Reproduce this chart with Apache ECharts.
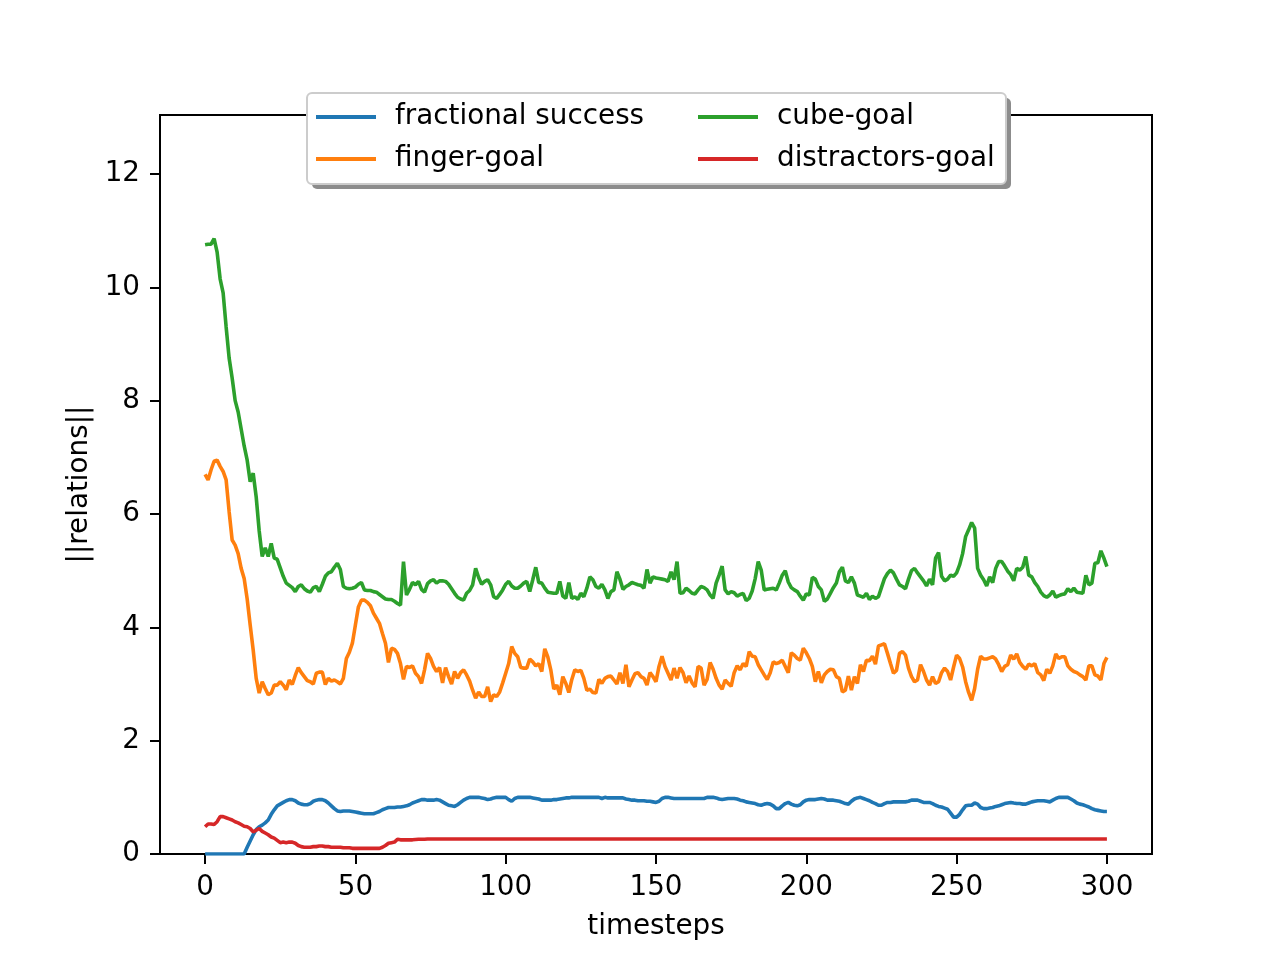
<!DOCTYPE html>
<html>
<head>
<meta charset="utf-8">
<script src="https://cdn.jsdelivr.net/npm/echarts@6/dist/echarts.min.js"></script>
<style>html,body{margin:0;padding:0;background:#fff}#c{width:1280px;height:960px}</style>
</head>
<body>
<div id="c"></div>
<script>
const seriesNames = ['fractional success', 'finger-goal', 'cube-goal', 'distractors-goal'];
const xTicks = [0, 50, 100, 150, 200, 250, 300];
const yTicks = [0, 2, 4, 6, 8, 10, 12];

const fractionalSuccess = [
0,0,0,0,0,0,0,0,0,0,
0,0,0,0,0.12,0.23,0.34,0.43,0.48,0.51,
0.55,0.6,0.7,0.78,0.85,0.88,0.91,0.94,0.96,0.96,
0.94,0.9,0.88,0.87,0.87,0.89,0.93,0.95,0.96,0.96,
0.94,0.9,0.85,0.8,0.76,0.75,0.76,0.76,0.76,0.75,
0.74,0.73,0.72,0.71,0.71,0.71,0.71,0.73,0.75,0.78,
0.8,0.82,0.82,0.82,0.83,0.83,0.84,0.85,0.87,0.9,
0.92,0.94,0.96,0.96,0.95,0.95,0.95,0.96,0.95,0.92,
0.89,0.86,0.85,0.84,0.87,0.91,0.95,0.98,1.0,1.0,
1.0,1.0,0.99,0.98,0.96,0.97,0.99,1.0,1.0,1.0,
1.0,0.96,0.93,0.98,1.0,1.0,1.0,1.0,1.0,0.99,
0.98,0.97,0.95,0.95,0.95,0.95,0.96,0.96,0.97,0.98,
0.99,0.99,1.0,1.0,1.0,1.0,1.0,1.0,1.0,1.0,
1.0,1.0,0.98,1.0,0.99,0.99,0.99,0.99,0.99,0.99,
0.97,0.96,0.95,0.95,0.94,0.94,0.94,0.93,0.93,0.92,
0.91,0.93,0.98,1.0,1.0,0.99,0.98,0.98,0.98,0.98,
0.98,0.98,0.98,0.98,0.98,0.98,0.98,1.0,1.0,1.0,
0.99,0.97,0.96,0.97,0.98,0.98,0.98,0.97,0.95,0.94,
0.92,0.91,0.9,0.89,0.87,0.86,0.88,0.89,0.88,0.85,
0.8,0.8,0.85,0.89,0.91,0.88,0.86,0.85,0.87,0.92,
0.95,0.96,0.96,0.96,0.97,0.98,0.97,0.95,0.95,0.95,
0.94,0.93,0.91,0.89,0.88,0.93,0.97,0.99,1.0,0.98,
0.96,0.94,0.91,0.89,0.86,0.86,0.89,0.91,0.91,0.92,
0.92,0.92,0.92,0.92,0.93,0.95,0.95,0.95,0.93,0.91,
0.91,0.91,0.89,0.86,0.84,0.83,0.81,0.79,0.72,0.65,
0.65,0.7,0.78,0.85,0.86,0.86,0.9,0.88,0.82,0.8,
0.8,0.81,0.82,0.84,0.85,0.87,0.89,0.9,0.91,0.9,
0.89,0.89,0.88,0.88,0.9,0.92,0.93,0.94,0.94,0.94,
0.93,0.92,0.95,0.98,1.0,1.0,1.0,1.0,0.97,0.94,
0.9,0.88,0.87,0.85,0.83,0.8,0.78,0.77,0.76,0.75,
0.75
];

const fingerGoal = [
6.7,6.6,6.78,6.93,6.95,6.84,6.75,6.6,6.04,5.54,
5.45,5.3,5.04,4.86,4.5,4.04,3.6,3.1,2.84,3.04,
2.92,2.81,2.84,2.98,2.98,3.04,2.98,2.9,3.07,2.99,
3.15,3.29,3.2,3.13,3.06,3.04,3.0,3.19,3.21,3.21,
2.99,3.1,3.05,3.07,3.04,3.0,3.1,3.45,3.56,3.72,
4.04,4.36,4.48,4.48,4.44,4.38,4.25,4.16,4.07,3.89,
3.72,3.38,3.63,3.61,3.54,3.36,3.08,3.31,3.29,3.32,
3.19,3.13,3.01,3.25,3.54,3.45,3.31,3.22,3.29,3.02,
3.29,3.13,3.0,3.22,3.1,3.2,3.25,3.16,3.05,2.89,
2.75,2.86,2.78,2.78,2.95,2.69,2.81,2.78,2.86,3.02,
3.19,3.36,3.66,3.54,3.48,3.29,3.28,3.28,3.44,3.39,
3.32,3.36,3.22,3.62,3.48,3.25,2.91,2.98,2.81,3.13,
3.01,2.85,3.08,3.25,3.22,3.24,3.1,2.89,2.91,2.85,
2.84,3.08,3.01,3.1,3.13,3.14,3.07,3.0,3.2,3.01,
3.34,2.95,3.07,3.18,3.2,3.13,3.1,2.98,3.2,3.13,
3.04,3.31,3.49,3.31,3.19,3.07,3.28,3.1,3.29,3.2,
3.02,3.14,3.02,2.95,3.31,3.28,2.98,3.08,3.38,3.26,
3.1,2.98,2.91,3.07,3.01,2.96,3.2,3.32,3.25,3.36,
3.31,3.57,3.49,3.48,3.34,3.25,3.16,3.08,3.2,3.39,
3.36,3.38,3.42,3.31,3.2,3.55,3.51,3.45,3.42,3.63,
3.55,3.45,3.31,3.04,3.22,3.02,3.16,3.22,3.26,3.25,
3.13,3.1,2.86,2.89,3.14,2.89,3.13,3.01,3.34,3.22,
3.42,3.41,3.49,3.35,3.67,3.69,3.71,3.54,3.36,3.19,
3.24,3.54,3.57,3.51,3.28,3.13,3.04,3.07,3.34,3.22,
3.07,2.98,3.13,3.01,3.04,3.2,3.28,3.22,3.07,3.3,
3.51,3.45,3.3,3.04,2.85,2.71,2.92,3.26,3.49,3.44,
3.44,3.46,3.48,3.44,3.34,3.22,3.31,3.34,3.51,3.44,
3.53,3.38,3.31,3.26,3.35,3.32,3.36,3.2,3.16,3.06,
3.26,3.19,3.32,3.53,3.45,3.48,3.48,3.32,3.26,3.22,
3.2,3.16,3.13,3.07,3.32,3.32,3.16,3.14,3.07,3.36,
3.47
];

const cubeGoal = [
10.75,10.76,10.76,10.86,10.62,10.15,9.9,9.3,8.75,8.4,
8.0,7.8,7.5,7.2,6.95,6.57,6.72,6.3,5.7,5.25,
5.4,5.25,5.48,5.22,5.2,5.05,4.9,4.78,4.74,4.7,
4.63,4.72,4.75,4.68,4.64,4.62,4.7,4.72,4.63,4.76,
4.9,4.96,4.98,5.06,5.13,5.02,4.72,4.69,4.68,4.69,
4.71,4.76,4.79,4.66,4.65,4.65,4.63,4.62,4.58,4.54,
4.5,4.49,4.49,4.46,4.42,4.39,5.16,4.57,4.67,4.79,
4.75,4.81,4.67,4.62,4.77,4.82,4.84,4.78,4.82,4.82,
4.81,4.76,4.68,4.6,4.53,4.5,4.48,4.6,4.65,4.75,
5.04,4.88,4.76,4.81,4.84,4.75,4.54,4.51,4.58,4.66,
4.76,4.81,4.73,4.69,4.69,4.73,4.78,4.81,4.63,4.84,
5.06,4.79,4.78,4.69,4.62,4.61,4.6,4.6,4.81,4.55,
4.51,4.79,4.51,4.54,4.49,4.6,4.54,4.69,4.89,4.84,
4.72,4.69,4.76,4.66,4.51,4.63,4.66,4.98,4.85,4.67,
4.72,4.75,4.79,4.77,4.75,4.74,4.69,5.02,4.78,4.89,
4.87,4.86,4.85,4.84,4.81,4.98,4.84,5.16,4.6,4.61,
4.69,4.65,4.6,4.59,4.66,4.72,4.7,4.66,4.57,4.51,
4.78,4.92,5.08,4.66,4.59,4.63,4.61,4.55,4.58,4.6,
4.47,4.51,4.64,4.86,5.16,5.01,4.66,4.67,4.68,4.69,
4.66,4.78,4.92,5.0,4.8,4.7,4.66,4.63,4.55,4.48,
4.59,4.57,4.88,4.85,4.72,4.66,4.46,4.5,4.6,4.7,
4.78,4.98,5.06,4.82,4.79,4.89,4.78,4.57,4.55,4.53,
4.6,4.49,4.55,4.51,4.54,4.7,4.86,4.95,5.01,4.96,
4.85,4.75,4.72,4.68,4.85,5.0,5.04,4.96,4.89,4.82,
4.73,4.85,4.75,5.22,5.32,4.9,4.82,4.85,4.92,4.9,
4.96,5.1,5.3,5.6,5.72,5.85,5.75,5.04,4.92,4.84,
4.73,4.89,4.79,5.04,5.16,5.16,5.08,4.99,4.93,4.82,
5.04,5.01,5.06,5.25,4.92,4.89,4.79,4.72,4.62,4.56,
4.53,4.57,4.64,4.53,4.56,4.58,4.59,4.68,4.63,4.69,
4.62,4.61,4.6,4.92,4.75,4.78,5.13,5.14,5.35,5.22,
5.07
];

const distractorsGoal = [
0.48,0.53,0.53,0.52,0.57,0.66,0.66,0.64,0.62,0.6,
0.57,0.55,0.52,0.49,0.48,0.45,0.39,0.42,0.45,0.4,
0.37,0.34,0.3,0.28,0.24,0.2,0.21,0.2,0.21,0.21,
0.19,0.15,0.13,0.12,0.12,0.12,0.13,0.13,0.14,0.14,
0.13,0.13,0.12,0.12,0.12,0.12,0.11,0.11,0.11,0.1,
0.1,0.1,0.1,0.1,0.1,0.1,0.1,0.1,0.1,0.12,
0.15,0.19,0.2,0.21,0.26,0.25,0.25,0.25,0.25,0.25,
0.255,0.26,0.26,0.26,0.265,0.265,0.265,0.265,0.265,0.265,
0.265,0.265,0.265,0.265,0.265,0.265,0.265,0.265,0.265,0.265,
0.265,0.265,0.265,0.265,0.265,0.265,0.265,0.265,0.265,0.265,
0.265,0.265,0.265,0.265,0.265,0.265,0.265,0.265,0.265,0.265,
0.265,0.265,0.265,0.265,0.265,0.265,0.265,0.265,0.265,0.265,
0.265,0.265,0.265,0.265,0.265,0.265,0.265,0.265,0.265,0.265,
0.265,0.265,0.265,0.265,0.265,0.265,0.265,0.265,0.265,0.265,
0.265,0.265,0.265,0.265,0.265,0.265,0.265,0.265,0.265,0.265,
0.265,0.265,0.265,0.265,0.265,0.265,0.265,0.265,0.265,0.265,
0.265,0.265,0.265,0.265,0.265,0.265,0.265,0.265,0.265,0.265,
0.265,0.265,0.265,0.265,0.265,0.265,0.265,0.265,0.265,0.265,
0.265,0.265,0.265,0.265,0.265,0.265,0.265,0.265,0.265,0.265,
0.265,0.265,0.265,0.265,0.265,0.265,0.265,0.265,0.265,0.265,
0.265,0.265,0.265,0.265,0.265,0.265,0.265,0.265,0.265,0.265,
0.265,0.265,0.265,0.265,0.265,0.265,0.265,0.265,0.265,0.265,
0.265,0.265,0.265,0.265,0.265,0.265,0.265,0.265,0.265,0.265,
0.265,0.265,0.265,0.265,0.265,0.265,0.265,0.265,0.265,0.265,
0.265,0.265,0.265,0.265,0.265,0.265,0.265,0.265,0.265,0.265,
0.265,0.265,0.265,0.265,0.265,0.265,0.265,0.265,0.265,0.265,
0.265,0.265,0.265,0.265,0.265,0.265,0.265,0.265,0.265,0.265,
0.265,0.265,0.265,0.265,0.265,0.265,0.265,0.265,0.265,0.265,
0.265,0.265,0.265,0.265,0.265,0.265,0.265,0.265,0.265,0.265,
0.265,0.265,0.265,0.265,0.265,0.265,0.265,0.265,0.265,0.265,
0.265
];

const colors = ['#1f77b4', '#ff7f0e', '#2ca02c', '#d62728'];
const allValues = [fractionalSuccess, fingerGoal, cubeGoal, distractorsGoal];
const FONT = 'DejaVu Sans';
const FS = 27.8;

const chart = echarts.init(document.getElementById('c'), null, {renderer: 'canvas'});

function pairs(arr) { return arr.map((v, i) => [i, v]); }

const legendPos = [
  {left: 316, top: 102},
  {left: 316, top: 144},
  {left: 698, top: 102},
  {left: 698, top: 144}
];

const option = {
  animation: false,
  backgroundColor: '#fff',
  textStyle: {fontFamily: FONT},
  grid: {left: 160, right: 128, top: 115, bottom: 106, show: true, borderColor: '#000', borderWidth: 2, backgroundColor: 'transparent', containLabel: false},
  xAxis: {
    type: 'value', min: -15, max: 315,
    name: 'timesteps', nameLocation: 'middle', nameGap: 59,
    nameTextStyle: {fontFamily: FONT, fontSize: FS, color: '#000'},
    axisLine: {show: true, onZero: false, lineStyle: {color: '#000', width: 2}},
    axisTick: {show: true, length: 10, lineStyle: {color: '#000', width: 2}, customValues: xTicks},
    axisLabel: {show: true, margin: 20, fontFamily: FONT, fontSize: FS, color: '#000', customValues: xTicks},
    splitLine: {show: false}
  },
  yAxis: {
    type: 'value', min: 0, max: 13.04,
    name: '||relations||', nameLocation: 'middle', nameGap: 64, nameRotate: 90,
    nameTextStyle: {fontFamily: FONT, fontSize: FS, color: '#000'},
    axisLine: {show: true, onZero: false, lineStyle: {color: '#000', width: 2}},
    axisTick: {show: true, length: 10, lineStyle: {color: '#000', width: 2}, customValues: yTicks},
    axisLabel: {show: true, margin: 20, fontFamily: FONT, fontSize: FS, color: '#000', customValues: yTicks},
    splitLine: {show: false}
  },
  graphic: {
    elements: [
      {type: 'rect', z: 50, shape: {x: 312, y: 98, width: 699, height: 91, r: 5}, style: {fill: '#8c8c8c'}},
      {type: 'rect', z: 51, shape: {x: 307, y: 93, width: 699, height: 91, r: 5}, style: {fill: '#fff', stroke: '#cccccc', lineWidth: 2}}
    ]
  },
  legend: seriesNames.map((n, i) => ({
    data: [n], z: 60, left: legendPos[i].left, top: legendPos[i].top, padding: 0,
    icon: 'rect', itemWidth: 60, itemHeight: 4, selectedMode: false,
    textStyle: {fontFamily: FONT, fontSize: FS, color: '#000', lineHeight: 30, padding: [0, 0, 0, 14]}
  })),
  series: seriesNames.map((n, i) => ({
    name: n, type: 'line', data: pairs(allValues[i]), showSymbol: false, symbol: 'none',
    lineStyle: {color: colors[i], width: 3.6}, itemStyle: {color: colors[i]},
    z: 3, clip: true
  }))
};
chart.setOption(option);
</script>
</body>
</html>
